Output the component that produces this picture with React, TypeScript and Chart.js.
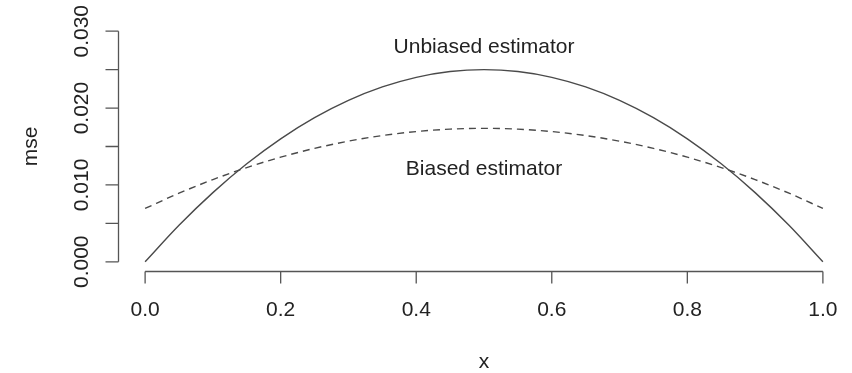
import React, { useEffect, useRef } from "react";
import { Chart, registerables } from "chart.js";

Chart.register(...registerables);

const xValues = [0, 0.05, 0.1, 0.15, 0.2, 0.25, 0.3, 0.35, 0.4, 0.45, 0.5, 0.55, 0.6, 0.65, 0.7, 0.75, 0.8, 0.85, 0.9, 0.95, 1.0];
const unbiasedMse = [0, 0.00475, 0.009, 0.01275, 0.016, 0.01875, 0.021, 0.02275, 0.024, 0.02475, 0.025, 0.02475, 0.024, 0.02275, 0.021, 0.01875, 0.016, 0.01275, 0.009, 0.00475, 0];
const biasedMse = [0.006944, 0.008924, 0.010694, 0.012257, 0.013611, 0.014757, 0.015694, 0.016424, 0.016944, 0.017257, 0.017361, 0.017257, 0.016944, 0.016424, 0.015694, 0.014757, 0.013611, 0.012257, 0.010694, 0.008924, 0.006944];
const xTicks = [0, 0.2, 0.4, 0.6, 0.8, 1.0];
const xTickLabels = ["0.0", "0.2", "0.4", "0.6", "0.8", "1.0"];
const yTicks = [0, 0.005, 0.01, 0.015, 0.02, 0.025, 0.03];
const yTickLabels = ["0.000", "", "0.010", "", "0.020", "", "0.030"];
const annotations = [
  { text: "Unbiased estimator", x: 0.5, y: 0.0279 },
  { text: "Biased estimator", x: 0.5, y: 0.0120 },
];
const xTitle = "x";
const yTitle = "mse";

const FONT = '"Liberation Sans", Arial, Helvetica, sans-serif';
const AXIS_COLOR = "#555555";
const TEXT_COLOR = "#222222";

const rAxesPlugin = {
  id: "rAxes",
  afterDraw(chart: any) {
    const ctx = chart.ctx;
    const xs = chart.scales.x;
    const ys = chart.scales.y;
    const area = chart.chartArea;
    const tickLen = 12;
    ctx.save();
    ctx.strokeStyle = AXIS_COLOR;
    ctx.lineWidth = 1.3;
    // x axis
    const xb = Math.round(area.bottom) + 0.5;
    ctx.beginPath();
    ctx.moveTo(xs.getPixelForValue(xTicks[0]), xb);
    ctx.lineTo(xs.getPixelForValue(xTicks[xTicks.length - 1]), xb);
    xTicks.forEach((t) => {
      const px = xs.getPixelForValue(t);
      ctx.moveTo(px, xb);
      ctx.lineTo(px, xb + tickLen);
    });
    ctx.stroke();
    // y axis
    const yl = Math.round(area.left) + 0.5;
    ctx.beginPath();
    ctx.moveTo(yl, ys.getPixelForValue(yTicks[0]));
    ctx.lineTo(yl, ys.getPixelForValue(yTicks[yTicks.length - 1]));
    yTicks.forEach((t) => {
      const py = ys.getPixelForValue(t);
      ctx.moveTo(yl, py);
      ctx.lineTo(yl - tickLen - 1, py);
    });
    ctx.stroke();

    ctx.fillStyle = TEXT_COLOR;
    ctx.font = `21px ${FONT}`;
    ctx.textAlign = "center";
    ctx.textBaseline = "middle";
    xTicks.forEach((t, i) => {
      ctx.fillText(xTickLabels[i], xs.getPixelForValue(t), 310);
    });
    yTicks.forEach((t, i) => {
      if (!yTickLabels[i]) return;
      ctx.save();
      ctx.translate(82, ys.getPixelForValue(t));
      ctx.rotate(-Math.PI / 2);
      ctx.fillText(yTickLabels[i], 0, 0);
      ctx.restore();
    });
    // titles
    ctx.fillText(xTitle, (xs.getPixelForValue(0) + xs.getPixelForValue(1)) / 2, 362);
    ctx.save();
    ctx.translate(31, (area.top + area.bottom) / 2);
    ctx.rotate(-Math.PI / 2);
    ctx.fillText(yTitle, 0, 0);
    ctx.restore();
    // annotations
    annotations.forEach((a) => {
      ctx.fillText(a.text, xs.getPixelForValue(a.x), ys.getPixelForValue(a.y));
    });
    ctx.restore();
  },
};

export default function App() {
  const canvasRef = useRef<HTMLCanvasElement | null>(null);
  useEffect(() => {
    if (!canvasRef.current) return;
    const chart = new Chart(canvasRef.current, {
      type: "line",
      data: {
        datasets: [
          {
            label: "Unbiased estimator",
            data: xValues.map((x, i) => ({ x, y: unbiasedMse[i] })),
            borderColor: "#4a4a4a",
            borderWidth: 1.4,
            pointRadius: 0,
            tension: 0.4,
            cubicInterpolationMode: "monotone",
            fill: false,
          },
          {
            label: "Biased estimator",
            data: xValues.map((x, i) => ({ x, y: biasedMse[i] })),
            borderColor: "#4a4a4a",
            borderWidth: 1.4,
            borderDash: [7, 5],
            pointRadius: 0,
            cubicInterpolationMode: "monotone",
            fill: false,
          },
        ],
      },
      options: {
        animation: false,
        responsive: false,
        maintainAspectRatio: false,
        devicePixelRatio: 1,
        layout: { padding: { left: 118, right: 2, top: 22, bottom: 102 } },
        plugins: { legend: { display: false }, tooltip: { enabled: false } },
        scales: {
          x: { type: "linear", min: -0.04, max: 1.04, display: false },
          y: { type: "linear", min: -0.0012, max: 0.0312, display: false },
        },
      },
      plugins: [rAxesPlugin],
    });
    return () => chart.destroy();
  }, []);
  return (
    <div style={{ position: "absolute", left: 0, top: 0, width: 852, height: 373, background: "#fff" }}>
      <canvas ref={canvasRef} width={852} height={373} style={{ display: "block", width: 852, height: 373 }} />
    </div>
  );
}
